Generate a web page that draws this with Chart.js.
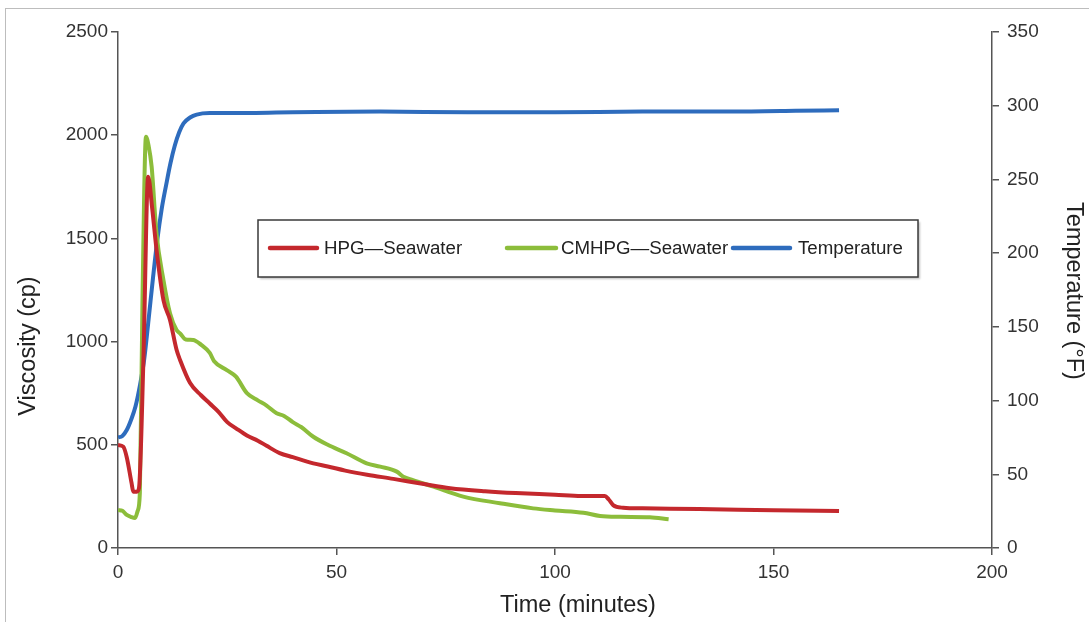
<!DOCTYPE html>
<html>
<head>
<meta charset="utf-8">
<script src="https://cdn.jsdelivr.net/npm/chart.js@4"></script>
<style>
    body { margin: 0; background: #fff; }
    #wrap { position: relative; width: 1089px; height: 622px; }
    #frame { position: absolute; left: 5px; top: 8px; right: 0; bottom: 0;
             border-left: 1.5px solid #bdbdbd; border-top: 1.5px solid #bdbdbd; pointer-events: none; }
    canvas { position: absolute; left: 0; top: 0; }
</style>
</head>
<body>
<div id="wrap">
    <canvas id="viscChart" width="1089" height="622"></canvas>
    <div id="frame"></div>
</div>
<script>
// Data
const seriesNames = ["HPG\u2014Seawater", "CMHPG\u2014Seawater", "Temperature"];
const axisTitles = ["Time (minutes)", "Viscosity (cp)", "Temperature (\u00b0F)"];

const hpgTime = [0, 1.2, 2, 3.1, 3.5, 4.3, 4.8, 5.8, 6.9, 7.8, 8.9, 10.4, 11.9, 13.4, 14.2, 16.5, 19, 21, 23, 25, 27, 29.5, 32, 34, 37, 40, 44.7, 48, 52, 57, 63, 70, 76, 84, 91, 100, 106, 111.4, 112.3, 113.3, 115.6, 120, 133, 150, 165];
const hpgVisc = [499, 491, 440, 315, 273, 273, 290, 900, 1799, 1650, 1429, 1201, 1105, 960, 911, 799, 740, 700, 660, 610, 580, 545, 520, 495, 460, 440, 410, 395, 375, 355, 335, 310, 290, 275, 266, 258, 252, 252, 235, 208, 195, 192, 189, 183, 179];

const cmhpgTime = [0, 1, 2, 3, 3.9, 4.5, 5, 5.6, 6.4, 7, 7.7, 8.8, 10.4, 11.9, 13.4, 14.2, 15.5, 17.2, 19, 21, 22, 24.9, 27, 29.5, 32, 34, 36.3, 38, 40, 42, 44.7, 48, 52.3, 56.9, 60, 63.8, 65.3, 67.5, 72.2, 79, 87.4, 95, 100, 106.5, 110.3, 115, 121.7, 126];
const cmhpgVisc = [184, 180, 160, 150, 145, 180, 266, 1200, 1993, 1950, 1847, 1525, 1298, 1137, 1056, 1040, 1010, 1008, 985, 945, 905, 862, 830, 750, 715, 690, 653, 640, 610, 585, 539, 500, 459, 410, 394, 370, 345, 329, 297, 249, 217, 192, 182, 171, 155, 151, 149, 139];

const tempTime = [0, 1, 2, 3, 4, 5, 6, 7, 8, 9, 10, 11, 12, 13, 14, 15, 16.5, 18, 21, 25, 40, 60, 80, 100, 120, 140, 155, 165];
const tempF = [75, 76, 80, 87, 96, 110, 128, 155, 183, 209, 230, 246, 261, 273, 282, 288, 292, 294, 295, 295, 295.5, 296, 295.5, 295.5, 296, 296, 296.5, 297];

const xTicks = [0, 50, 100, 150, 200];
const viscTicks = [0, 500, 1000, 1500, 2000, 2500];
const tempTicks = [0, 50, 100, 150, 200, 250, 300, 350];

const colors = ["#c4282d", "#8cbd3b", "#2e6cbd"];
const fontFamily = "'Liberation Sans', Arial, sans-serif";

function pts(xs, ys) { return xs.map((x, i) => ({ x: x, y: ys[i] })); }

// Legend box drawn inside the plot like the original
const boxLegend = {
    id: "boxLegend",
    afterDraw(chart) {
        const ctx = chart.ctx;
        ctx.save();
        ctx.shadowColor = "rgba(0,0,0,0.25)";
        ctx.shadowOffsetX = 1.5;
        ctx.shadowOffsetY = 1.5;
        ctx.shadowBlur = 2;
        ctx.fillStyle = "#fff";
        ctx.fillRect(258, 220, 660, 57);
        ctx.shadowColor = "transparent";
        ctx.strokeStyle = "#3a3a3a";
        ctx.lineWidth = 1.5;
        ctx.strokeRect(258, 220, 660, 57);
        const lineX = [[270, 317], [507, 556], [733, 790]];
        const textX = [324, 561, 798];
        ctx.font = "18.7px " + fontFamily;
        ctx.textBaseline = "middle";
        chart.data.datasets.forEach((ds, i) => {
            ctx.strokeStyle = ds.borderColor;
            ctx.lineWidth = 4.5;
            ctx.lineCap = "round";
            ctx.beginPath();
            ctx.moveTo(lineX[i][0], 248);
            ctx.lineTo(lineX[i][1], 248);
            ctx.stroke();
            ctx.fillStyle = "#222";
            ctx.fillText(ds.label, textX[i], 249);
        });
        ctx.restore();
    }
};

// Axis titles, placed where the original has them
const axisTitlePlugin = {
    id: "axisTitlePlugin",
    afterDraw(chart) {
        const ctx = chart.ctx;
        ctx.save();
        ctx.font = "23.5px " + fontFamily;
        ctx.fillStyle = "#222";
        ctx.textAlign = "center";
        ctx.textBaseline = "middle";
        ctx.fillText(axisTitles[0], 578, 606);
        ctx.translate(29, 346);
        ctx.rotate(-Math.PI / 2);
        ctx.fillText(axisTitles[1], 0, 0);
        ctx.restore();
        ctx.save();
        ctx.font = "23.5px " + fontFamily;
        ctx.fillStyle = "#222";
        ctx.textAlign = "center";
        ctx.textBaseline = "middle";
        ctx.translate(1073, 291);
        ctx.rotate(Math.PI / 2);
        ctx.fillText(axisTitles[2], 0, 0);
        ctx.restore();
    }
};

const tickFont = { family: fontFamily, size: 19 };
const plain = v => String(v);

new Chart(document.getElementById("viscChart").getContext("2d"), {
    type: "line",
    data: {
        datasets: [
            { label: seriesNames[0], data: pts(hpgTime, hpgVisc), yAxisID: "y", borderColor: colors[0] },
            { label: seriesNames[1], data: pts(cmhpgTime, cmhpgVisc), yAxisID: "y", borderColor: colors[1] },
            { label: seriesNames[2], data: pts(tempTime, tempF), yAxisID: "y1", borderColor: colors[2] }
        ]
    },
    options: {
        responsive: false,
        animation: false,
        layout: { padding: { top: 32, right: 0, bottom: 0, left: 0 } },
        elements: {
            point: { radius: 0 },
            line: { borderWidth: 4, cubicInterpolationMode: "monotone", fill: false }
        },
        plugins: { legend: { display: false }, tooltip: { enabled: false } },
        scales: {
            x: {
                type: "linear", min: 0, max: 200,
                afterFit: s => { s.height = 74; },
                afterBuildTicks: s => { s.ticks = xTicks.map(v => ({ value: v })); },
                grid: { drawOnChartArea: false, tickLength: 7, color: "#555", lineWidth: 1.5 },
                border: { color: "#555", width: 1.5 },
                ticks: { color: "#333", font: tickFont, padding: 6, maxRotation: 0, callback: plain }
            },
            y: {
                position: "left", min: 0, max: 2500,
                afterFit: s => { s.width = 118; },
                afterBuildTicks: s => { s.ticks = viscTicks.map(v => ({ value: v })); },
                grid: { drawOnChartArea: false, tickLength: 7, color: "#555", lineWidth: 1.5 },
                border: { color: "#555", width: 1.5 },
                ticks: { color: "#333", font: tickFont, padding: 3, callback: plain }
            },
            y1: {
                position: "right", min: 0, max: 350,
                afterFit: s => { s.width = 97; },
                afterBuildTicks: s => { s.ticks = tempTicks.map(v => ({ value: v })); },
                grid: { drawOnChartArea: false, tickLength: 7, color: "#555", lineWidth: 1.5 },
                border: { color: "#555", width: 1.5 },
                ticks: { color: "#333", font: tickFont, padding: 8, callback: plain }
            }
        }
    },
    plugins: [boxLegend, axisTitlePlugin]
});
</script>
</body>
</html>
